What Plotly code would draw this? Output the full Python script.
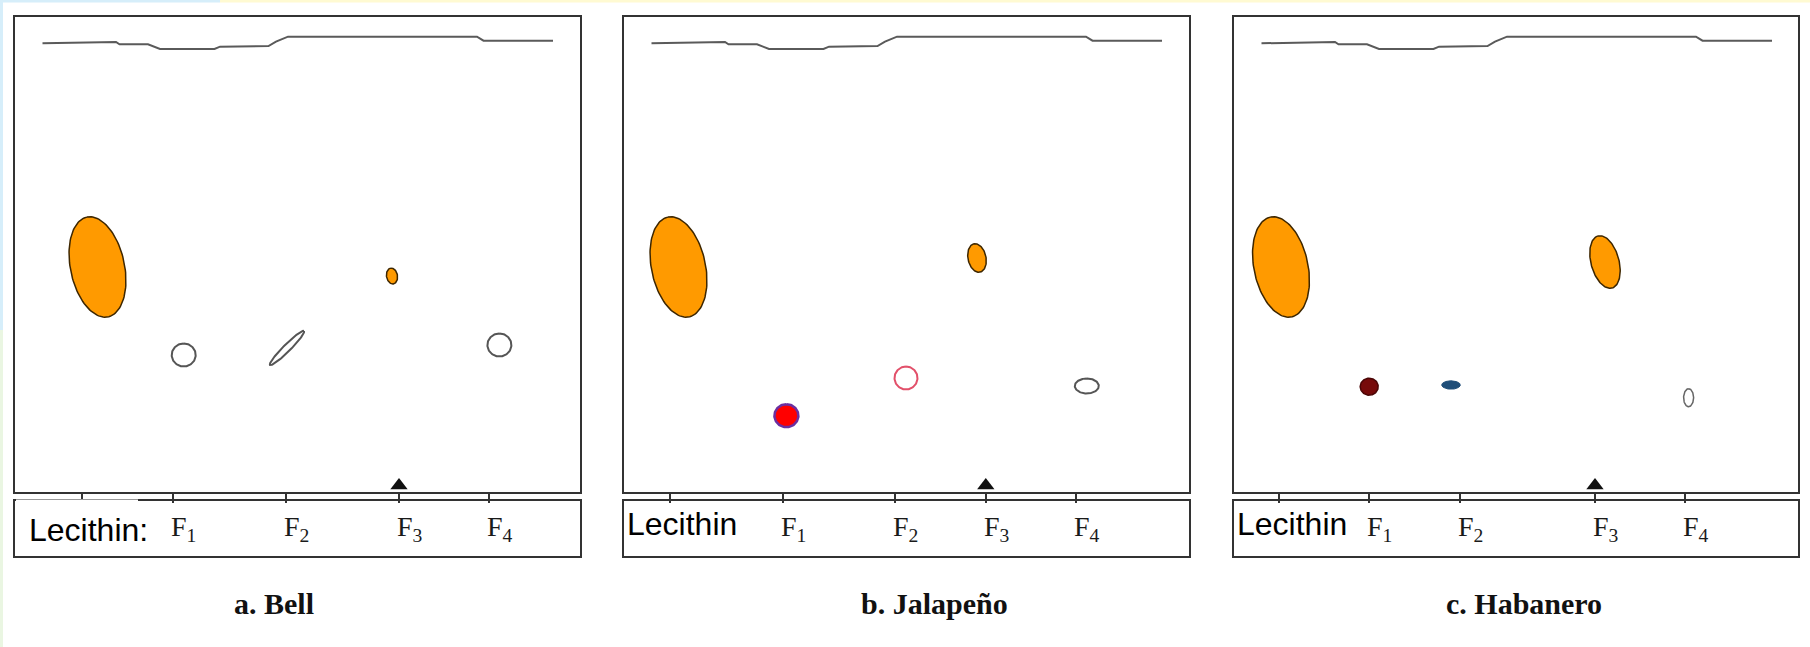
import numpy as np
import plotly.graph_objects as go

# ---------------- data ----------------
panel_titles = ["a. Bell", "b. Jalapeño", "c. Habanero"]
lane_labels = ["Lecithin", "F<sub>1</sub>", "F<sub>2</sub>", "F<sub>3</sub>", "F<sub>4</sub>"]
lecithin_text = ["Lecithin:", "Lecithin", "Lecithin"]

# lane (application point) positions across each plate, plate units from left edge
lanes_bell = [67, 158, 271, 384, 474]
lanes_jalapeno = [46, 158.5, 271.4, 361.8, 451.7]
lanes_habanero = [45, 135, 225.5, 361, 451]

# solvent front (same drawing on each plate): x from plate left, y above origin line
front_x = [27.5, 101, 104.5, 133, 145, 199.5, 205, 253.5, 261, 273, 462, 468.5, 538]
front_y = [448.7, 450, 447.7, 447.7, 443, 443, 445.3, 446, 450.3, 455.3, 455.3, 451.3, 451.3]

# spots: centre x, centre y, half-width, half-height, tilt (deg), kind
bell_x = [82.5, 168.7, 272, 377, 484.4]
bell_y = [225, 137, 144, 216, 147]
bell_rw = [27, 12, 3.5, 5.5, 12]
bell_rh = [51, 11.5, 24, 8, 11.5]
bell_tilt = [12, 0, -45, 10, 0]
bell_kind = ["orange", "ring", "ring", "orange", "ring"]

jal_x = [54.5, 162.4, 282, 353, 462.8]
jal_y = [225, 76.3, 114, 234, 106]
jal_rw = [27, 12, 11.5, 9, 12]
jal_rh = [51, 11.5, 11.5, 14.5, 7.5]
jal_tilt = [12, 0, 0, 12, 0]
jal_kind = ["orange", "red", "ring_red", "orange", "ring"]

hab_x = [47, 135.2, 217, 371, 454.6]
hab_y = [225, 105.3, 107, 230, 94.3]
hab_rw = [27, 9, 9.3, 14, 5]
hab_rh = [51, 8.5, 4.2, 27, 9]
hab_tilt = [12, 0, 0, 15, 0]
hab_kind = ["orange", "maroon", "blue", "orange", "ring_thin"]

# ---------------- styles / layout ----------------
STYLES = {
    "orange": dict(fill="#FF9A00", line="#3d2600", width=1.5),
    "ring": dict(fill=None, line="#555555", width=2),
    "ring_thin": dict(fill=None, line="#666666", width=1.5),
    "red": dict(fill="#FF0000", line="#6B2FA0", width=2.5),
    "ring_red": dict(fill=None, line="#E2506A", width=2),
    "maroon": dict(fill="#770A0A", line="#4A0505", width=1.5),
    "blue": dict(fill="#1F4E79", line="#1F4E79", width=1),
}

W, H = 1810, 647
PLATE_TOP, PLATE_BOT = 17, 492
BOX_TOP, BOX_BOT = 501, 556
PANELS = [
    dict(left=15, right=580, title_x=274, lec_dx=12, lec_y=530),
    dict(left=624, right=1189, title_x=935, lec_dx=0.5, lec_y=524),
    dict(left=1234, right=1798, title_x=1524, lec_dx=0.5, lec_y=523.5),
]
BORDER = "#333333"

def px(x):
    return x / W

def py(y):
    return 1 - y / H

lanes_all = [lanes_bell, lanes_jalapeno, lanes_habanero]
spots_all = [
    (bell_x, bell_y, bell_rw, bell_rh, bell_tilt, bell_kind),
    (jal_x, jal_y, jal_rw, jal_rh, jal_tilt, jal_kind),
    (hab_x, hab_y, hab_rw, hab_rh, hab_tilt, hab_kind),
]

fig = go.Figure()
t = np.linspace(0, 2 * np.pi, 120)
plate_h = PLATE_BOT - PLATE_TOP
box_h = BOX_BOT - BOX_TOP
annotations = []
layout_axes = {}

for i, p in enumerate(PANELS):
    n_plate, n_box = i + 1, i + 4
    xa = "x" if n_plate == 1 else f"x{n_plate}"
    ya = "y" if n_plate == 1 else f"y{n_plate}"
    xb, yb = f"x{n_box}", f"y{n_box}"
    pw = p["right"] - p["left"]
    lanes = lanes_all[i]

    # solvent front
    fig.add_trace(go.Scatter(x=front_x, y=front_y, mode="lines",
                             line=dict(color="#5a5a5a", width=2),
                             xaxis=xa, yaxis=ya, hoverinfo="skip", showlegend=False))
    # spots
    sx, sy, rw, rh, tilt, kind = spots_all[i]
    for cx, cy, a_w, a_h, th, k in zip(sx, sy, rw, rh, tilt, kind):
        th_r = np.deg2rad(th)
        ux, uy = -np.sin(th_r), np.cos(th_r)
        vx, vy = np.cos(th_r), np.sin(th_r)
        ex = cx + a_h * np.cos(t) * ux + a_w * np.sin(t) * vx
        ey = cy + a_h * np.cos(t) * uy + a_w * np.sin(t) * vy
        st = STYLES[k]
        fig.add_trace(go.Scatter(
            x=ex, y=ey, mode="lines",
            line=dict(color=st["line"], width=st["width"]),
            fill="toself" if st["fill"] else "none",
            fillcolor=st["fill"] if st["fill"] else None,
            xaxis=xa, yaxis=ya, hoverinfo="skip", showlegend=False))
    # arrow at F3 origin
    fig.add_trace(go.Scatter(x=[lanes[3]], y=[6.5], mode="markers",
                             marker=dict(symbol="triangle-up", size=15, color="#111111"),
                             xaxis=xa, yaxis=ya, cliponaxis=False,
                             hoverinfo="skip", showlegend=False))

    dom_x = [px(p["left"]), px(p["right"])]
    common = dict(showgrid=False, zeroline=False, showticklabels=False, fixedrange=True,
                  showline=True, mirror=True, linecolor=BORDER, linewidth=2)
    layout_axes["xaxis" if n_plate == 1 else f"xaxis{n_plate}"] = dict(
        domain=dom_x, range=[0, pw], anchor=ya, ticks="outside", tickvals=lanes,
        ticklen=9, tickwidth=2, tickcolor=BORDER, **common)
    layout_axes["yaxis" if n_plate == 1 else f"yaxis{n_plate}"] = dict(
        domain=[py(PLATE_BOT), py(PLATE_TOP)], range=[0, plate_h], anchor=xa, ticks="", **common)
    layout_axes[f"xaxis{n_box}"] = dict(domain=dom_x, range=[0, pw], anchor=yb, ticks="", **common)
    layout_axes[f"yaxis{n_box}"] = dict(domain=[py(BOX_BOT), py(BOX_TOP)], range=[0, box_h],
                                        anchor=xb, ticks="", **common)

    # lane labels F1..F4
    for lx, lab in zip(lanes[1:], lane_labels[1:]):
        annotations.append(dict(x=lx - 4, y=box_h / 2 + 0.5, xref=xb, yref=yb, text=lab,
                                showarrow=False, xanchor="left", yanchor="middle",
                                font=dict(family="Liberation Serif, Times New Roman, serif",
                                          size=28, color="#1a1a1a")))
    # Lecithin label
    annotations.append(dict(x=p["lec_dx"], y=BOX_BOT - p["lec_y"], xref=xb, yref=yb,
                            text=lecithin_text[i], showarrow=False, xanchor="left",
                            yanchor="middle",
                            font=dict(family="Liberation Sans, Arial, sans-serif",
                                      size=32, color="#000000")))
    # panel title
    annotations.append(dict(x=px(p["title_x"]), y=py(603), xref="paper", yref="paper",
                            text=f"<b>{panel_titles[i]}</b>", showarrow=False,
                            xanchor="center", yanchor="middle",
                            font=dict(family="Liberation Serif, Times New Roman, serif",
                                      size=30, color="#111111")))

shapes = [
    # thin coloured page strips
    dict(type="rect", xref="paper", yref="paper", x0=0, x1=px(220), y0=py(2.5), y1=1,
         fillcolor="#D6EEFA", line=dict(width=0), layer="below"),
    dict(type="rect", xref="paper", yref="paper", x0=px(220), x1=1, y0=py(2.5), y1=1,
         fillcolor="#FFFAD2", line=dict(width=0), layer="below"),
    dict(type="rect", xref="paper", yref="paper", x0=0, x1=px(3), y0=py(330), y1=1,
         fillcolor="#D6EEFA", line=dict(width=0), layer="below"),
    dict(type="rect", xref="paper", yref="paper", x0=0, x1=px(3), y0=0, y1=py(330),
         fillcolor="#EAF6E2", line=dict(width=0), layer="below"),
    # white patch behind the pasted "Lecithin:" label in panel a
    dict(type="rect", xref="paper", yref="paper", x0=px(16), x1=px(138), y0=py(543), y1=py(499.5),
         fillcolor="#FFFFFF", line=dict(width=0), layer="above"),
]

fig.update_layout(
    width=W, height=H, autosize=False,
    margin=dict(l=0, r=0, t=0, b=0),
    paper_bgcolor="#FFFFFF", plot_bgcolor="#FFFFFF",
    showlegend=False, annotations=annotations, shapes=shapes,
    **layout_axes,
)

fig.write_html("out.html", config={"displayModeBar": False},
               post_script="document.body.style.margin='0';document.body.style.overflow='hidden';")
